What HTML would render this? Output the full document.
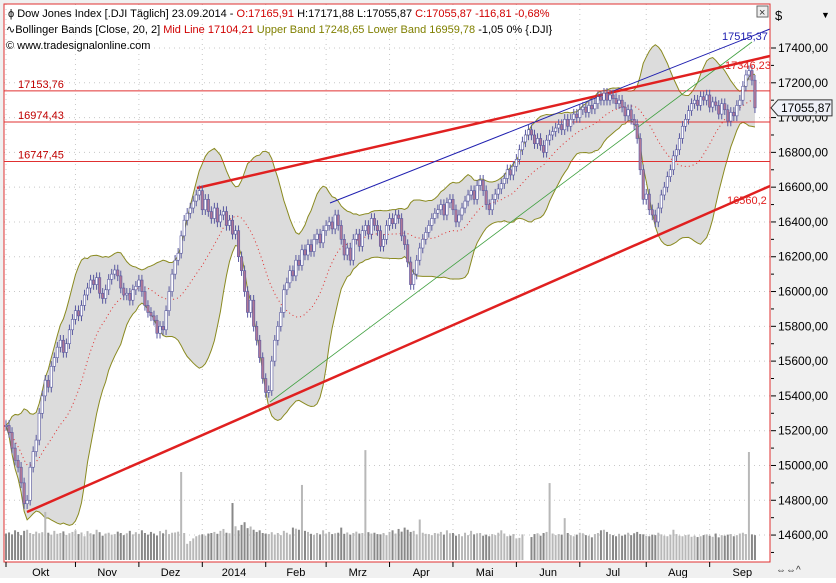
<!DOCTYPE html>
<html><head><meta charset="utf-8">
<style>
html,body{margin:0;padding:0;background:#fff;}
body{width:836px;height:578px;overflow:hidden;position:relative;font-family:"Liberation Sans",Tahoma,sans-serif;}
svg text{font-family:"Liberation Sans",sans-serif;}
</style></head>
<body>
<svg id="chart" width="836" height="578" viewBox="0 0 836 578" xmlns="http://www.w3.org/2000/svg">
<rect x="0" y="0" width="836" height="578" fill="#f0f0f0"/>
<rect x="4" y="4" width="766" height="558" fill="#fff"/>
<g id="grid"></g>
<g id="bands"></g>
<g id="volume"></g>
<g id="lines"></g>
<g id="candles"></g>
<g id="overlay"></g>
<rect x="4" y="4" width="766" height="558" fill="none" stroke="#e03030" stroke-width="1"/>
<g id="axes"></g>
<g font-size="11">
<text x="8" y="17" fill="#000"><tspan fill="#000">ϕ Dow Jones Index [.DJI  Täglich] 23.09.2014 - </tspan><tspan fill="#d00000">O:17165,91</tspan><tspan fill="#000"> H:17171,88 L:17055,87 </tspan><tspan fill="#d00000">C:17055,87 -116,81 -0,68%</tspan></text>
<text x="6" y="33"><tspan fill="#000">∿Bollinger Bands [Close, 20, 2] </tspan><tspan fill="#d00000">Mid Line 17104,21 </tspan><tspan fill="#808000">Upper Band 17248,65 Lower Band 16959,78 </tspan><tspan fill="#000">-1,05 0% {.DJI}</tspan></text>
<text x="6" y="49" fill="#000">© www.tradesignalonline.com</text>
</g>
<rect x="757" y="6" width="11" height="11" fill="#eee" stroke="#666"/>
<text x="759" y="16" font-size="11" fill="#333">×</text>
<text x="775" y="20" font-size="13" fill="#000">$</text>
<text x="821" y="18" font-size="9" fill="#000">▼</text>
<text x="776" y="573" font-size="10" fill="#333">⇔⇔^</text>
</svg>
<script>
const closes=[15230,15190,15100,15030,14990,14900,14780,14800,14990,15080,15146,15300,15400,15490,15450,15570,15620,15680,15720,15650,15700,15780,15840,15890,15860,15920,15980,16020,16066,16040,16080,15990,15960,16010,16070,16100,16124,16090,16020,15980,15990,15950,16010,16030,16066,16000,15920,15880,15860,15835,15760,15800,15780,15890,16000,16100,16180,16220,16320,16410,16450,16480,16520,16555,16580,16470,16530,16460,16420,16480,16400,16440,16460,16380,16410,16330,16350,16200,16120,16000,15880,15950,15800,15720,15620,15500,15420,15430,15600,15720,15800,15880,16010,16050,16120,16090,16180,16150,16240,16210,16270,16230,16300,16330,16280,16350,16380,16400,16360,16440,16380,16300,16210,16250,16180,16300,16330,16260,16350,16380,16330,16420,16380,16350,16260,16300,16380,16420,16390,16440,16420,16320,16270,16170,16040,16100,16180,16250,16300,16340,16380,16420,16450,16470,16500,16440,16510,16530,16470,16400,16440,16480,16520,16555,16580,16530,16610,16640,16580,16500,16470,16530,16560,16590,16620,16650,16700,16670,16720,16760,16815,16860,16900,16930,16900,16850,16880,16840,16800,16870,16900,16920,16940,16960,16930,16990,16950,16990,17020,17000,17045,17060,17030,17070,17050,17080,17120,17100,17140,17100,17130,17110,17080,17100,17060,17010,17045,16990,16960,16880,16700,16530,16560,16470,16440,16400,16480,16555,16600,16660,16700,16780,16815,16880,16950,16990,17040,17080,17100,17070,17120,17100,17130,17060,17090,17070,17020,17080,17045,16980,17030,17010,17070,17100,17180,17245,17270,17215,17056];
const volumes=[98,102,95,110,104,92,108,112,100,96,105,99,103,178,101,94,108,97,100,106,93,99,104,110,96,102,88,107,99,95,112,103,90,98,101,94,96,105,100,92,99,108,95,103,97,110,100,94,104,98,91,107,99,112,96,101,102,105,326,100,60,70,80,88,92,95,90,98,100,104,97,108,115,101,99,211,125,110,130,140,118,124,112,104,110,100,98,96,103,94,100,92,108,101,95,120,116,112,278,108,104,97,93,100,95,110,98,104,96,99,101,120,97,102,94,100,105,98,100,407,103,98,101,96,95,100,92,104,110,98,115,105,120,112,104,108,95,150,101,97,96,92,100,98,104,94,110,99,100,90,96,88,101,92,108,95,99,100,90,94,88,96,92,101,110,98,88,90,96,80,82,95,0,0,85,96,99,90,100,104,285,98,92,96,94,155,100,92,88,94,101,99,92,90,84,96,100,110,112,104,96,92,88,97,90,94,101,92,99,104,96,95,90,88,94,92,101,95,90,88,94,112,96,90,88,92,94,86,90,85,88,92,95,90,86,98,84,92,90,94,96,88,92,98,101,96,400,95,92];
const yTicks=[14600,14800,15000,15200,15400,15600,15800,16000,16200,16400,16600,16800,17000,17200,17400];
const monthLabels=["Okt","Nov","Dez","2014","Feb","Mrz","Apr","Mai","Jun","Jul","Aug","Sep"];
const monthStartIdx=[0,23,44,65,86,106,127,148,169,190,212,233];
const priceLevels=[17153.76,16974.43,16747.45];

const NS="http://www.w3.org/2000/svg";
const xOf=i=>6+i*3.02;
const yOf=v=>48+(17400-v)/200*34.79;
const yVol=v=>560-v*0.27;
function mk(parent,tag,attrs){const e=document.createElementNS(NS,tag);for(const k in attrs)e.setAttribute(k,attrs[k]);document.getElementById(parent).appendChild(e);return e;}

// grid + y axis
yTicks.forEach(t=>{
  const y=yOf(t);
  const g=mk('grid','line',{x1:4,x2:770,y1:y,y2:y,stroke:'#c8c8c8','stroke-dasharray':'1,4'});
  
  
  const tk=mk('axes','line',{x1:771,x2:776,y1:y,y2:y,stroke:'#000'});
  
  
  const mt=mk('axes','line',{x1:771,x2:774,y1:y+17.4,y2:y+17.4,stroke:'#000'});
  
  
  const tx=mk('axes','text',{x:778,y:y+4,'font-size':12,fill:'#000'});
  tx.textContent=t.toFixed(2).replace('.',',');
  
  
});
monthStartIdx.forEach((s,k)=>{
  const x=xOf(s);
  const g=mk('grid','line',{x1:x,x2:x,y1:4,y2:562,stroke:'#c8c8c8','stroke-dasharray':'1,4'});
  
  
  const tk=mk('axes','line',{x1:x,x2:x,y1:562,y2:567,stroke:'#000'});
  
  
  const next=k+1<monthStartIdx.length?xOf(monthStartIdx[k+1]):775;
  const tx=mk('axes','text',{x:(x+next)/2,y:576,'font-size':11,fill:'#000','text-anchor':'middle'});
  tx.textContent=monthLabels[k];
  
  
});

// bollinger
const mid=[],up=[],lo=[];
closes.forEach((c,i)=>{
  const w=closes.slice(Math.max(0,i-19),i+1);
  const m=w.reduce((a,b)=>a+b,0)/w.length;
  const sd=Math.sqrt(w.reduce((a,b)=>a+(b-m)*(b-m),0)/w.length);
  mid.push(m);up.push(m+2*sd);lo.push(m-2*sd);
});
const upPts=up.map((v,i)=>xOf(i)+','+yOf(v));
const loPts=lo.map((v,i)=>xOf(i)+','+yOf(v));
const band=mk('bands','polygon',{points:upPts.concat(loPts.slice().reverse()).join(' '),fill:'#dcdcdc'});


const ub=mk('bands','polyline',{points:upPts.join(' '),fill:'none',stroke:'#8a8a20','stroke-width':1});


const lb=mk('bands','polyline',{points:loPts.join(' '),fill:'none',stroke:'#8a8a20','stroke-width':1});


const ml=mk('bands','polyline',{points:mid.map((v,i)=>xOf(i)+','+yOf(v)).join(' '),fill:'none',stroke:'#e03030','stroke-width':1,'stroke-dasharray':'1,3'});



// volume
volumes.forEach((v,i)=>{
  if(!v)return;
  const upDay=i>0&&closes[i]>=closes[i-1];
  const r=mk('volume','rect',{x:xOf(i)-1,y:yVol(v),width:2,height:560-yVol(v),fill:upDay?'#b8b8b8':'#888'});
  
  
});

// horizontal levels
priceLevels.forEach(p=>{
  const y=yOf(p);
  const l=mk('lines','line',{x1:4,x2:770,y1:y,y2:y,stroke:'#e03030','stroke-width':1});
  
  
  const t=mk('overlay','text',{x:18,y:y-3,'font-size':11,fill:'#c00000'});
  t.textContent=p.toFixed(2).replace('.',',');
  
  
});

// trend lines
function tl(x1,y1,x2,y2,col,w,name){const l=mk('lines','line',{x1,y1,x2,y2,stroke:col,'stroke-width':w});}
tl(330,203,770,29,'#2020b0',1,'blue-trend-line');
tl(270,402,752,42,'#40a040',0.8,'green-trend-line');
tl(197,188,770,56,'#e02020',2.5,'upper-trend-line');
tl(27,512,770,186,'#e02020',2.5,'lower-trend-line');
[['17515,37',722,40,'#2020b0'],['17346,23',725,69,'#e02020'],['16560,2',727,204,'#e02020']].forEach(a=>{
  const t=mk('overlay','text',{x:a[1],y:a[2],'font-size':11,fill:a[3]});
  t.textContent=a[0];
  
  
});

// candles
closes.forEach((c,i)=>{
  const o=i>0?closes[i-1]:c;
  const hi=Math.max(o,c)+30, lw=Math.min(o,c)-30;
  const x=xOf(i);
  const w=mk('candles','line',{x1:x,x2:x,y1:yOf(hi),y2:yOf(lw),stroke:'#5a5aa0','stroke-width':1});
  
  
  const top=yOf(Math.max(o,c)),bot=yOf(Math.min(o,c));
  const b=mk('candles','rect',{x:x-1.2,y:top,width:2.4,height:Math.max(1,bot-top),fill:c>=o?'#fff':'#b07898',stroke:'#5a5aa0','stroke-width':0.6});
  
  
});

// last price marker
const ly=yOf(closes[closes.length-1]);
const mkp=mk('axes','polygon',{points:`771,${ly} 778,${ly-8} 832,${ly-8} 832,${ly+8} 778,${ly+8}`,fill:'#eef0f8',stroke:'#333'});


const lt=mk('axes','text',{x:781,y:ly+4,'font-size':12,fill:'#000'});
lt.textContent=closes[closes.length-1].toFixed(2).replace('.',',').replace('17056,00','17055,87');


</script>
</body></html>
